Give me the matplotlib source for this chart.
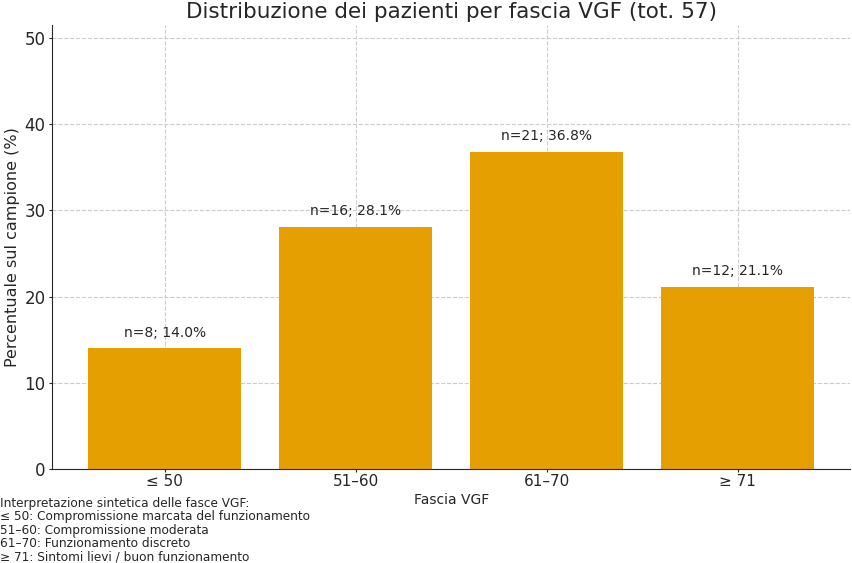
import matplotlib
matplotlib.use("Agg")
import matplotlib.pyplot as plt

categories = ["≤ 50", "51–60", "61–70", "≥ 71"]
counts = [8, 16, 21, 12]
percents = [14.0, 28.1, 36.8, 21.1]
total = 57
legend_lines = [
    "Interpretazione sintetica delle fasce VGF:",
    "≤ 50: Compromissione marcata del funzionamento",
    "51–60: Compromissione moderata",
    "61–70: Funzionamento discreto",
    "≥ 71: Sintomi lievi / buon funzionamento",
]

txt = "#262626"
fig = plt.figure(figsize=(8.52, 5.63), dpi=100)
ax = fig.add_axes([0.061, 0.167, 0.937, 0.789])
x = list(range(len(categories)))
bars = ax.bar(x, percents, width=0.8, color="#E69F00", zorder=2)
for xi, p, n in zip(x, percents, counts):
    ax.text(xi, p + 1.0, f"n={n}; {p:.1f}%", ha="center", va="bottom", fontsize=10, color=txt)
ax.set_xticks(x)
ax.set_xticklabels(categories)
ax.set_ylim(0, max(percents) * 1.4)
ax.grid(True, linestyle="--", color="#cccccc", linewidth=0.8, zorder=0)
ax.set_axisbelow(True)
for s in ["top", "right"]:
    ax.spines[s].set_visible(False)
ax.spines["left"].set_color(txt)
ax.spines["bottom"].set_color(txt)
ax.tick_params(axis="y", labelsize=12, colors=txt, length=2.5, pad=2)
ax.tick_params(axis="x", labelsize=11, colors=txt, length=2.5, pad=1)
ax.set_xlabel("Fascia VGF", fontsize=10, color=txt, labelpad=3)
ax.set_ylabel("Percentuale sul campione (%)", fontsize=11.5, color=txt, labelpad=3)
ax.set_title(f"Distribuzione dei pazienti per fascia VGF (tot. {total})", fontsize=15.5, color=txt, pad=5)
fig.text(0.0, 0.118, "\n".join(legend_lines), ha="left", va="top", fontsize=8.7, color=txt, linespacing=1.05)
fig.savefig("out.png", dpi=100)
